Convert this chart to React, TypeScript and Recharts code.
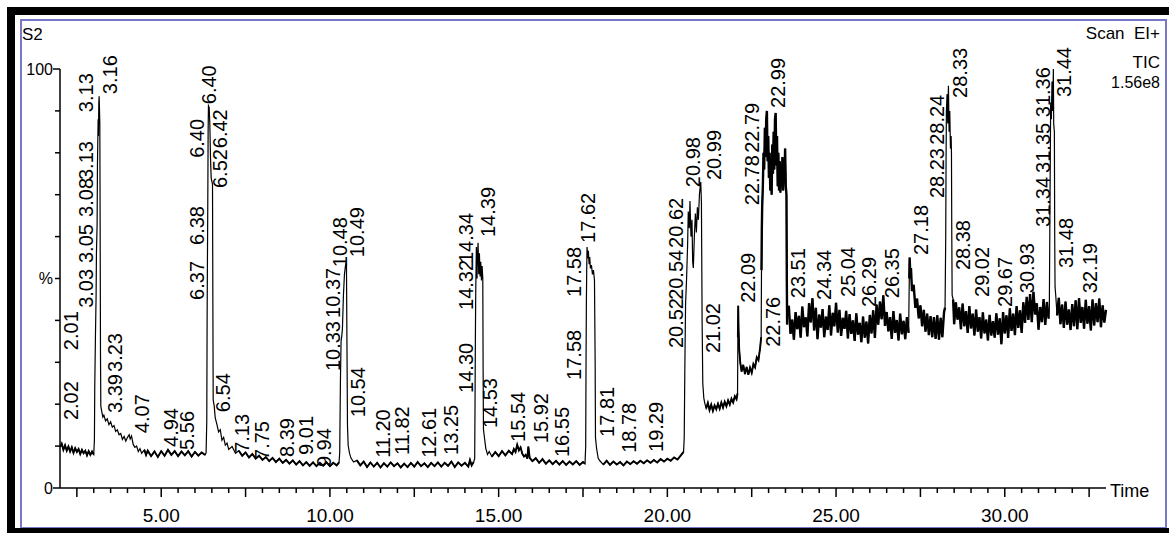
import { ComposedChart, Line, Scatter, XAxis, YAxis } from 'recharts';

const FONT = '"Liberation Sans", Arial, sans-serif';
const W = 1169;
const H = 533;

// TIC trace, [retention time (min), relative abundance (%)]
const BASE_START: [number, number][] = [
  [2.0, 9.8], [2.05, 10.6], [2.1, 9.1], [2.15, 10.2], [2.2, 8.9], [2.25, 9.9], [2.3, 8.7], [2.35, 9.7],
  [2.4, 8.4], [2.45, 9.5], [2.5, 8.6], [2.55, 9.3], [2.6, 8.1], [2.65, 9.1], [2.7, 8.3], [2.75, 8.9],
  [2.8, 7.8], [2.85, 8.8], [2.9, 7.9], [2.95, 8.7], [3.0, 8.0],
];
const PEAK_316: [number, number][] = [
  [3.02, 11.5], [3.03, 24], [3.05, 36], [3.07, 46], [3.08, 56], [3.1, 63], [3.11, 77], [3.13, 88],
  [3.14, 84], [3.15, 92], [3.16, 93.5], [3.17, 90.5], [3.18, 87], [3.19, 62], [3.2, 32], [3.21, 19.5],
  [3.23, 18.6], [3.27, 16.9], [3.3, 17.4], [3.35, 16.0], [3.4, 16.5], [3.45, 15.1], [3.5, 15.8],
  [3.55, 14.5], [3.6, 14.9], [3.65, 13.5], [3.7, 13.9], [3.75, 12.7], [3.8, 13.0], [3.85, 11.6],
  [3.9, 12.3], [3.95, 11.2], [4.0, 12.1], [4.05, 12.7], [4.08, 11.7], [4.12, 12.4], [4.17, 10.4],
  [4.22, 9.7], [4.27, 10.0], [4.32, 8.7], [4.37, 9.4], [4.42, 8.3],
];
const BASE_5: [number, number][] = [
  [4.5, 9.1], [4.55, 7.9], [4.6, 8.9], [4.7, 7.6], [4.8, 8.7], [4.9, 7.4], [5.0, 8.8], [5.1, 7.7],
  [5.2, 9.1], [5.3, 7.9], [5.4, 8.8], [5.5, 7.6], [5.6, 8.7], [5.7, 7.8], [5.8, 8.8], [5.9, 7.5],
  [6.0, 8.6], [6.1, 7.7], [6.2, 8.5], [6.3, 7.9],
];
const PEAK_640: [number, number][] = [
  [6.33, 8.4], [6.35, 16], [6.36, 40], [6.37, 55], [6.38, 68], [6.39, 85], [6.4, 91.5], [6.41, 88.5],
  [6.42, 91], [6.44, 87], [6.46, 79], [6.48, 74], [6.5, 73.2], [6.52, 72.5], [6.53, 45], [6.54, 21],
  [6.57, 19.6], [6.6, 16.8], [6.65, 15.2], [6.7, 13.4], [6.75, 13.9], [6.8, 11.4], [6.85, 12.1],
  [6.9, 10.2], [6.95, 10.7], [7.0, 9.2], [7.1, 9.9], [7.2, 8.3],
];
const BASE_8: [number, number][] = [
  [7.3, 8.9], [7.4, 7.7], [7.5, 8.5], [7.6, 7.3], [7.7, 8.1], [7.8, 7.0], [7.9, 7.7], [8.0, 6.7],
  [8.1, 7.4], [8.2, 6.4], [8.3, 7.2], [8.4, 6.2], [8.5, 7.0], [8.6, 6.0], [8.7, 6.7], [8.8, 5.8],
  [8.9, 6.6], [9.0, 5.6], [9.1, 6.4], [9.2, 5.4], [9.3, 6.2], [9.4, 5.3], [9.5, 6.1], [9.6, 5.2],
  [9.7, 6.0], [9.8, 5.3], [9.9, 6.1], [10.0, 5.2], [10.1, 6.0], [10.2, 5.4], [10.27, 6.1],
];
const PEAK_1048: [number, number][] = [
  [10.29, 8.5], [10.31, 25], [10.33, 35], [10.35, 36.2], [10.37, 38], [10.4, 46], [10.43, 51],
  [10.46, 53], [10.48, 53.8], [10.49, 53.2], [10.5, 40], [10.52, 15], [10.54, 10.2], [10.58, 8.3],
  [10.62, 7.2], [10.7, 6.2],
];
const BASE_12: [number, number][] = [
  [10.8, 6.6], [10.9, 5.4], [11.0, 6.3], [11.1, 5.0], [11.2, 6.1], [11.3, 5.1], [11.4, 6.0], [11.5, 4.9],
  [11.6, 5.9], [11.7, 5.1], [11.8, 6.1], [11.9, 5.2], [12.0, 5.9], [12.1, 4.9], [12.2, 5.8], [12.3, 5.0],
  [12.4, 6.0], [12.5, 5.1], [12.6, 6.2], [12.7, 5.2], [12.8, 5.9], [12.9, 5.0], [13.0, 6.0], [13.1, 5.2],
  [13.2, 6.1], [13.3, 5.1], [13.4, 6.0], [13.5, 5.3], [13.6, 6.3], [13.7, 5.0], [13.8, 6.1], [13.9, 5.3],
  [14.0, 6.0], [14.1, 5.1], [14.15, 6.7], [14.2, 5.4], [14.26, 6.2],
];
const PEAK_1439: [number, number][] = [
  [14.29, 7], [14.3, 20], [14.31, 35], [14.32, 46], [14.33, 52], [14.34, 57.5], [14.36, 50], [14.37, 55],
  [14.39, 58.5], [14.41, 51], [14.43, 56], [14.45, 50.5], [14.47, 54], [14.49, 49.5], [14.51, 53],
  [14.53, 50], [14.54, 28], [14.55, 14], [14.58, 12], [14.62, 9.4], [14.67, 8.0], [14.72, 8.7],
];
const BASE_16: [number, number][] = [
  [14.8, 7.5], [14.9, 8.6], [15.0, 7.6], [15.1, 8.8], [15.2, 7.8], [15.3, 8.9], [15.4, 8.1], [15.45, 9.3],
  [15.5, 8.6], [15.55, 10.3], [15.6, 9.0], [15.65, 9.7], [15.7, 8.2], [15.75, 7.5], [15.8, 7.9],
  [15.85, 7.0], [15.88, 9.9], [15.92, 7.2], [16.0, 6.4], [16.1, 7.1], [16.2, 6.0], [16.3, 6.9],
  [16.4, 5.8], [16.5, 6.6], [16.6, 5.7], [16.7, 6.5], [16.8, 5.6], [16.9, 6.4], [17.0, 5.5], [17.1, 6.3],
  [17.2, 5.6], [17.3, 6.4], [17.4, 5.5], [17.5, 6.2], [17.56, 5.8],
];
const PEAK_1762: [number, number][] = [
  [17.58, 10], [17.59, 30], [17.6, 44], [17.61, 52], [17.62, 57.5], [17.64, 54.8], [17.66, 56.6],
  [17.68, 53.4], [17.7, 55.1], [17.72, 52.4], [17.75, 53.2], [17.78, 51.0], [17.81, 52.0], [17.84, 49.6],
  [17.86, 30], [17.87, 12], [17.9, 9.6], [17.95, 7.1], [18.0, 6.5],
];
const BASE_19: [number, number][] = [
  [18.1, 5.6], [18.2, 6.5], [18.3, 5.5], [18.4, 6.3], [18.5, 5.6], [18.6, 6.2], [18.7, 5.4], [18.8, 6.3],
  [18.9, 5.7], [19.0, 6.4], [19.1, 5.8], [19.2, 6.5], [19.3, 5.9], [19.4, 6.6], [19.5, 6.0], [19.6, 6.7],
  [19.7, 6.1], [19.8, 6.9], [19.9, 6.3], [20.0, 7.0], [20.1, 6.5], [20.2, 7.3], [20.3, 6.8], [20.4, 7.8],
  [20.48, 8.6],
];
const PEAK_2099: [number, number][] = [
  [20.5, 12], [20.52, 30], [20.54, 44], [20.57, 50], [20.6, 58], [20.62, 66], [20.65, 62], [20.67, 68.5],
  [20.7, 60], [20.73, 64], [20.75, 54], [20.77, 52.5], [20.8, 60], [20.83, 65.5], [20.86, 61], [20.89, 67],
  [20.92, 64], [20.95, 70], [20.98, 72.5], [20.99, 73], [21.01, 68], [21.03, 40], [21.05, 25],
  [21.08, 21.5], [21.11, 20.2],
];
const PLATEAU_21: [number, number][] = [
  [21.15, 19.0], [21.2, 20.3], [21.25, 18.6], [21.3, 19.9], [21.35, 18.4], [21.4, 19.7], [21.45, 18.8],
  [21.5, 20.1], [21.55, 18.9], [21.6, 20.4], [21.65, 19.2], [21.7, 20.6], [21.75, 19.5], [21.8, 20.9],
  [21.85, 19.9], [21.9, 21.3], [21.95, 20.4], [22.0, 21.9], [22.05, 21.2], [22.08, 22.6],
];
const PEAK_2209: [number, number][] = [
  [22.09, 36], [22.1, 43.5], [22.11, 38], [22.13, 33], [22.16, 30], [22.2, 27.8], [22.25, 29.4],
  [22.3, 27.2], [22.35, 28.9], [22.4, 27.0], [22.45, 28.7], [22.5, 27.5], [22.55, 29.6], [22.6, 28.8],
  [22.65, 31.2], [22.7, 30.5], [22.75, 33.5], [22.78, 36],
];
const PEAK_2299: [number, number][] = [
  [22.79, 52], [22.8, 62], [22.81, 67], [22.83, 72], [22.85, 80], [22.87, 76], [22.89, 86], [22.91, 79],
  [22.93, 88], [22.95, 90], [22.97, 78], [22.99, 84], [23.01, 74], [23.03, 80], [23.05, 71], [23.07, 77],
  [23.09, 70], [23.11, 82], [23.13, 75], [23.15, 85], [23.17, 76], [23.19, 88], [23.21, 89.5], [23.23, 77],
  [23.25, 84], [23.27, 72], [23.29, 80], [23.31, 71], [23.33, 78], [23.35, 70.5], [23.37, 76], [23.39, 72],
  [23.41, 79], [23.43, 71], [23.45, 77], [23.47, 73], [23.49, 81], [23.51, 72], [23.53, 70], [23.54, 50],
  [23.55, 39],
];
const BASE_25: [number, number][] = [
  [23.6, 43.5], [23.65, 36.8], [23.7, 40.2], [23.75, 35.4], [23.8, 42.0], [23.85, 37.9], [23.9, 41.1],
  [23.95, 35.9], [24.0, 43.3], [24.05, 38.4], [24.1, 40.7], [24.15, 36.2], [24.2, 44.1], [24.25, 39.5],
  [24.3, 45.3], [24.35, 37.6], [24.4, 43.0], [24.45, 35.5], [24.5, 41.4], [24.55, 38.3], [24.6, 42.7],
  [24.65, 36.0], [24.7, 40.9], [24.75, 37.7], [24.8, 43.6], [24.85, 36.4], [24.9, 41.8], [24.95, 38.6],
  [25.0, 44.2], [25.05, 37.1], [25.1, 42.5], [25.15, 36.3], [25.2, 40.6], [25.25, 38.0], [25.3, 42.3],
  [25.35, 35.7], [25.4, 41.5], [25.45, 36.8], [25.5, 40.0], [25.55, 35.1], [25.6, 41.7], [25.65, 36.6],
  [25.7, 39.4], [25.75, 34.8], [25.8, 40.9], [25.85, 35.9], [25.9, 39.7], [25.95, 34.5], [26.0, 41.3],
  [26.05, 36.9], [26.1, 42.4], [26.15, 35.8], [26.2, 43.8], [26.25, 39.0], [26.3, 44.5], [26.35, 40.3],
  [26.4, 46.0], [26.45, 38.7], [26.5, 42.0], [26.55, 37.4], [26.6, 40.8], [26.65, 35.6], [26.7, 42.2],
  [26.75, 37.0], [26.8, 40.1], [26.85, 35.2], [26.9, 41.6], [26.95, 36.7], [27.0, 39.9], [27.05, 35.5],
  [27.1, 40.8], [27.15, 37.0],
];
const PEAK_2718: [number, number][] = [
  [27.17, 50], [27.18, 55], [27.2, 51], [27.22, 52.5], [27.25, 47], [27.3, 48.5], [27.35, 43],
  [27.4, 45.2], [27.45, 40.5], [27.5, 43.6], [27.55, 38.6], [27.6, 42.5], [27.65, 37.3], [27.7, 41.6],
  [27.75, 36.5], [27.8, 41.0], [27.85, 36.0], [27.9, 40.8], [27.95, 35.6], [28.0, 41.2], [28.05, 35.4],
  [28.1, 40.6], [28.15, 36.0], [28.2, 42.0], [28.23, 43],
];
const PEAK_2833: [number, number][] = [
  [28.25, 60], [28.26, 78], [28.27, 90], [28.29, 94], [28.31, 87], [28.33, 96], [28.35, 85], [28.37, 90],
  [28.39, 81], [28.41, 84], [28.42, 80], [28.43, 60], [28.44, 46],
];
const BASE_30: [number, number][] = [
  [28.47, 45.0], [28.5, 39.1], [28.55, 44.3], [28.6, 40.2], [28.65, 43.1], [28.7, 37.9], [28.75, 44.0],
  [28.8, 38.6], [28.85, 42.2], [28.9, 37.0], [28.95, 43.4], [29.0, 38.1], [29.05, 41.6], [29.1, 36.4],
  [29.15, 42.6], [29.2, 37.3], [29.25, 40.8], [29.3, 35.7], [29.35, 41.9], [29.4, 36.9], [29.45, 40.2],
  [29.5, 35.2], [29.55, 41.3], [29.6, 36.4], [29.65, 39.8], [29.7, 35.9], [29.75, 41.7], [29.8, 36.6],
  [29.85, 40.5], [29.9, 34.3], [29.95, 42.0], [30.0, 36.9], [30.05, 41.2], [30.1, 35.8], [30.15, 42.9],
  [30.2, 37.5], [30.25, 41.6], [30.3, 36.5], [30.35, 43.4], [30.4, 38.2], [30.45, 42.4], [30.5, 37.0],
  [30.55, 44.3], [30.6, 39.4], [30.65, 45.6], [30.7, 40.1], [30.75, 46.3], [30.8, 39.6], [30.85, 46.8],
  [30.9, 41.4], [30.95, 44.1], [31.0, 37.8], [31.05, 43.2], [31.1, 39.6], [31.15, 45.1], [31.2, 38.9],
  [31.25, 44.4], [31.3, 40.4],
];
const PEAK_3144: [number, number][] = [
  [31.32, 42], [31.33, 55], [31.34, 68], [31.35, 80], [31.36, 92], [31.38, 88], [31.4, 97], [31.42, 90],
  [31.44, 100], [31.45, 87], [31.47, 85], [31.48, 60], [31.49, 48], [31.51, 46],
];
const BASE_END: [number, number][] = [
  [31.55, 41.2], [31.6, 45.4], [31.65, 39.1], [31.7, 43.8], [31.75, 38.2], [31.8, 44.5], [31.85, 39.0],
  [31.9, 42.6], [31.95, 37.7], [32.0, 43.9], [32.05, 38.6], [32.1, 44.8], [32.15, 37.9], [32.2, 45.3],
  [32.25, 39.4], [32.3, 43.2], [32.35, 38.0], [32.4, 44.9], [32.45, 39.2], [32.5, 43.4], [32.55, 37.6],
  [32.6, 45.0], [32.65, 38.8], [32.7, 44.1], [32.75, 39.6], [32.8, 45.2], [32.85, 38.4], [32.9, 43.6],
  [32.95, 39.5], [33.0, 42.5],
];

// peak labels: text, time of the label column, level (%) where the text starts
const PEAK_LABELS: [string, number, number][] = [
  ['2.02', 2.32, 16.2], ['2.01', 2.32, 32.9],
  ['3.03', 2.77, 43.0], ['3.05', 2.77, 53.7], ['3.08', 2.77, 64.7], ['3.13', 2.77, 73.5], ['3.13', 2.77, 89.7],
  ['3.16', 3.47, 94.0], ['3.39', 3.62, 17.9], ['3.23', 3.62, 27.7],
  ['4.07', 4.42, 13.1], ['4.94', 5.28, 9.8], ['5.56', 5.76, 9.1],
  ['6.37', 6.06, 44.9], ['6.38', 6.06, 58.0], ['6.40', 6.06, 78.8], ['6.40', 6.43, 91.6],
  ['6.52', 6.74, 71.6], ['6.42', 6.74, 81.1], ['6.54', 6.83, 18.1],
  ['7.13', 7.39, 8.4], ['7.75', 7.98, 6.7], ['8.39', 8.72, 7.4], ['9.01', 9.29, 7.9], ['9.94', 9.83, 5.0],
  ['10.33', 10.09, 27.9], ['10.37', 10.09, 40.6], ['10.48', 10.3, 52.7], ['10.49', 10.8, 55.1],
  ['10.54', 10.82, 16.9], ['11.20', 11.56, 7.2], ['11.82', 12.15, 7.9], ['12.61', 12.94, 7.2],
  ['13.25', 13.59, 7.9],
  ['14.30', 14.03, 22.7], ['14.32', 14.03, 42.5], ['14.34', 14.03, 53.7], ['14.39', 14.67, 59.9],
  ['14.53', 14.75, 14.3], ['15.54', 15.56, 11.0], ['15.92', 16.26, 10.7], ['16.55', 16.89, 7.4],
  ['17.58', 17.23, 25.8], ['17.58', 17.23, 45.6], ['17.62', 17.65, 58.5],
  ['17.81', 18.2, 12.2], ['18.78', 18.86, 8.4], ['19.29', 19.66, 8.6],
  ['20.52', 20.26, 33.4], ['20.54', 20.26, 44.9], ['20.62', 20.26, 57.3], ['20.98', 20.75, 71.8],
  ['20.99', 21.38, 73.5], ['21.02', 21.35, 32.2], ['22.09', 22.38, 44.2], ['22.76', 23.12, 33.7],
  ['22.78', 22.5, 67.5], ['22.79', 22.5, 80.0], ['22.99', 23.28, 90.7],
  ['23.51', 23.86, 45.3], ['24.34', 24.64, 44.9], ['25.04', 25.34, 45.6], ['26.29', 25.98, 43.2],
  ['26.35', 26.67, 45.3], ['27.18', 27.53, 55.6],
  ['28.23', 27.98, 69.2], ['28.24', 27.98, 81.9], ['28.33', 28.67, 93.1], ['28.38', 28.75, 52.0],
  ['29.02', 29.34, 45.6], ['29.67', 30.01, 43.2], ['30.93', 30.65, 46.5],
  ['31.34', 31.13, 62.3], ['31.35', 31.13, 75.2], ['31.36', 31.13, 88.5], ['31.44', 31.76, 93.3],
  ['31.48', 31.81, 52.5], ['32.19', 32.53, 46.5],
];

const X_TICKS = [
  2.5, 3, 3.5, 4, 4.5, 5, 5.5, 6, 6.5, 7, 7.5, 8, 8.5, 9, 9.5, 10, 10.5, 11, 11.5, 12, 12.5, 13, 13.5,
  14, 14.5, 15, 15.5, 16, 16.5, 17, 17.5, 18, 18.5, 19, 19.5, 20, 20.5, 21, 21.5, 22, 22.5, 23, 23.5,
  24, 24.5, 25, 25.5, 26, 26.5, 27, 27.5, 28, 28.5, 29, 29.5, 30, 30.5, 31, 31.5, 32, 32.5,
];
const X_LABELLED = [5, 10, 15, 20, 25, 30];
const X_MAJOR = [2.5, 5, 7.5, 10, 12.5, 15, 17.5, 20, 22.5, 25, 27.5, 30, 32.5];
const Y_TICKS = [0, 10, 20, 30, 40, 50, 60, 70, 80, 90, 100];
const Y_TICK_LABELS: Record<number, string> = { 0: '0', 50: '%', 100: '100' };

const toPoints = (seg: [number, number][]) => seg.map(([t, v]) => ({ t, v }));

const TRACE = toPoints([
  ...BASE_START, ...PEAK_316, ...BASE_5, ...PEAK_640, ...BASE_8, ...PEAK_1048, ...BASE_12, ...PEAK_1439,
  ...BASE_16, ...PEAK_1762, ...BASE_19, ...PEAK_2099, ...PLATEAU_21, ...PEAK_2209, ...PEAK_2299,
  ...BASE_25, ...PEAK_2718, ...PEAK_2833, ...BASE_30, ...PEAK_3144, ...BASE_END,
]);

// the noisy stretches print as a heavier band than the peak flanks
const LIGHT_NOISE = [BASE_START, BASE_5, BASE_8, BASE_12, BASE_16, BASE_19, PLATEAU_21, PEAK_2209].map(toPoints);
const HEAVY_NOISE = [PEAK_2299, BASE_25, PEAK_2718, BASE_30, BASE_END].map(toPoints);

const LABELS = PEAK_LABELS.map(([text, t, v]) => ({ text, t, v }));

const XTick = ({ x, y, payload }: any) => {
  const t = payload.value;
  const len = X_MAJOR.includes(t) ? 9 : 5;
  return (
    <g>
      <line x1={x} x2={x} y1={y} y2={y + len} stroke="#000" strokeWidth={1.5} />
      {X_LABELLED.includes(t) && (
        <text x={x} y={y + 34} textAnchor="middle" fontSize={19} fontFamily={FONT} fill="#000">
          {t.toFixed(2)}
        </text>
      )}
    </g>
  );
};

const YTick = ({ x, y, payload }: any) => {
  const v = payload.value;
  const label = Y_TICK_LABELS[v];
  const len = v === 0 || v === 100 ? 7 : 5;
  return (
    <g>
      <line x1={x - len} x2={x} y1={y} y2={y} stroke="#000" strokeWidth={1.5} />
      {label && (
        <text x={x - 7} y={y} textAnchor="end" dominantBaseline="central" fontSize={16} fontFamily={FONT} fill="#000">
          {label}
        </text>
      )}
    </g>
  );
};

const PeakLabel = (props: any) => {
  const { cx, cy } = props;
  const text = props.payload?.text ?? props.text;
  if (cx == null || cy == null) return null;
  return (
    <text
      x={cx}
      y={cy}
      transform={`rotate(-90 ${cx} ${cy})`}
      dominantBaseline="central"
      fontSize={20}
      fontFamily={FONT}
      fill="#000"
    >
      {text}
    </text>
  );
};

export default function App() {
  return (
    <div style={{ position: 'absolute', left: 0, top: 0, width: W, height: H, background: '#fff' }}>
      <ComposedChart width={W} height={H} margin={{ top: 69, right: 63, bottom: 0, left: 0 }}>
        <XAxis
          type="number"
          dataKey="t"
          domain={[2, 33]}
          ticks={X_TICKS}
          interval={0}
          tick={<XTick />}
          tickLine={false}
          tickSize={0}
          tickMargin={0}
          height={45}
          axisLine={{ stroke: '#000', strokeWidth: 1.5 }}
          allowDecimals
        />
        <YAxis
          type="number"
          dataKey="v"
          domain={[0, 100]}
          ticks={Y_TICKS}
          interval={0}
          tick={<YTick />}
          tickLine={false}
          tickSize={0}
          tickMargin={0}
          width={60}
          axisLine={{ stroke: '#000', strokeWidth: 1.5 }}
        />
        <Line
          data={TRACE}
          dataKey="v"
          type="linear"
          stroke="#000"
          strokeWidth={1.2}
          dot={false}
          activeDot={false}
          isAnimationActive={false}
        />
        {LIGHT_NOISE.map((seg, i) => (
          <Line
            key={`light-${i}`}
            data={seg}
            dataKey="v"
            type="linear"
            stroke="#000"
            strokeWidth={1.9}
            dot={false}
            activeDot={false}
            isAnimationActive={false}
          />
        ))}
        {HEAVY_NOISE.map((seg, i) => (
          <Line
            key={`heavy-${i}`}
            data={seg}
            dataKey="v"
            type="linear"
            stroke="#000"
            strokeWidth={2.4}
            dot={false}
            activeDot={false}
            isAnimationActive={false}
          />
        ))}
        <Scatter data={LABELS} dataKey="v" shape={<PeakLabel />} isAnimationActive={false} />
      </ComposedChart>
      <svg width={W} height={H} style={{ position: 'absolute', left: 0, top: 0, pointerEvents: 'none' }}>
        <rect x={21} y={20} width={1145} height={508} fill="none" stroke="#7878c8" strokeWidth={2} />
        <rect x={7} y={7} width={W - 7} height={8} fill="#000" />
        <rect x={7} y={7} width={8} height={H - 7} fill="#000" />
        <rect x={7} y={528} width={W - 7} height={5} fill="#000" />
        <g fontFamily={FONT} fill="#000">
          <text x={22} y={40} fontSize={17}>S2</text>
          <text x={1160} y={39} fontSize={17} textAnchor="end" style={{ whiteSpace: 'pre' }}>Scan  EI+</text>
          <text x={1160} y={68} fontSize={17} textAnchor="end">TIC</text>
          <text x={1160} y={88} fontSize={16} textAnchor="end">1.56e8</text>
          <text x={1110} y={497} fontSize={18}>Time</text>
        </g>
      </svg>
    </div>
  );
}
